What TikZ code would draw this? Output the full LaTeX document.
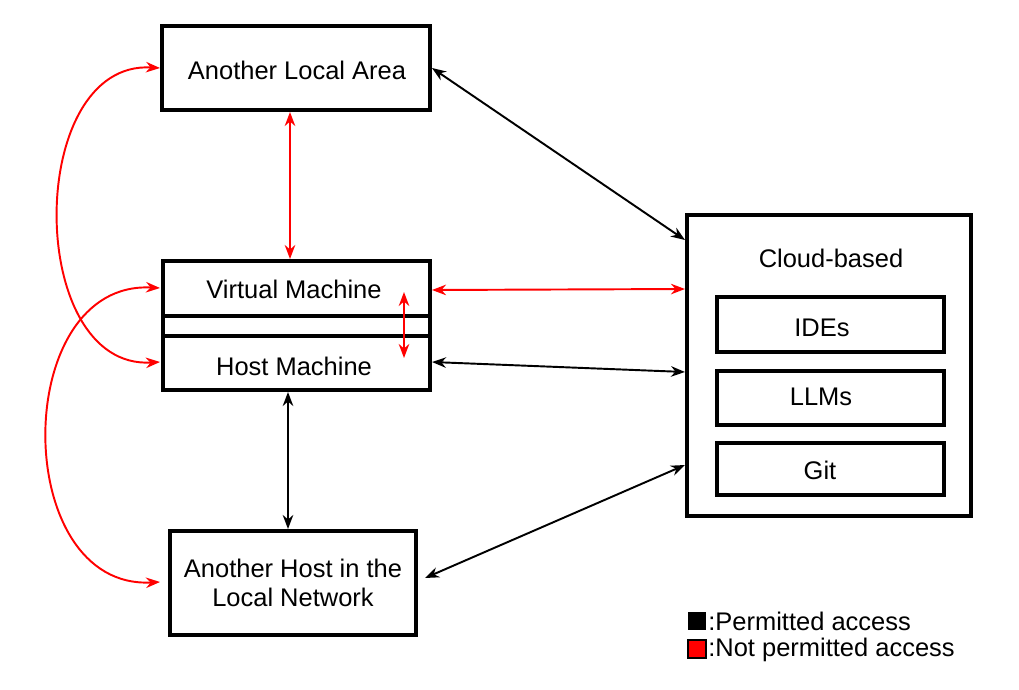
\documentclass[tikz,border=0pt]{standalone}
\usepackage{fontspec}
\setmainfont{Liberation Sans}
\usetikzlibrary{arrows.meta}
\begin{document}
\begin{tikzpicture}[x=0.02cm,y=-0.02cm,
  box/.style={draw,line width=2.4pt},
  lbl/.style={font=\fontsize{14.5}{16.5}\selectfont,align=center},
  ok/.style={{Stealth[length=8pt,width=6pt]}-{Stealth[length=8pt,width=6pt]},line width=1.1pt,black},
  no/.style={{Stealth[length=8pt,width=6pt]}-{Stealth[length=8pt,width=6pt]},line width=1.1pt,red}]
\useasboundingbox (0,0) rectangle (1019,690);
\draw[box] (162,26) rectangle (430,110);
\node[lbl] (ala) at (297,70) {Another Local Area};
\coordinate (alaB) at (290,112);
\coordinate (alaR) at (432,68);
\coordinate (alaL) at (160,68);
\draw[box] (163,261) rectangle (430,390);
\draw[line width=2.4pt] (163,316) -- (430,316) (163,336) -- (430,336);
\node[lbl] (vm) at (294,289) {Virtual Machine};
\node[lbl] (hm) at (294,366) {Host Machine};
\draw[box] (170,531) rectangle (416,635);
\node[lbl] (ah) at (293,583) {Another Host in the\\Local Network};
\draw[box] (687,215) rectangle (971,516);
\node[lbl] (cb) at (831,258) {Cloud-based};
\draw[box] (717,297) rectangle (944,352); \node[lbl] (ide) at (822,328) {IDEs};
\draw[box] (717,371) rectangle (944,425); \node[lbl] (llm) at (821,397) {LLMs};
\draw[box] (717,443) rectangle (944,495); \node[lbl] (git) at (820,470) {Git};
\coordinate (c1) at (685,240); \coordinate (c2) at (685,289);
\coordinate (c3) at (685,372); \coordinate (c4) at (685,465);
\coordinate (vmT) at (290,259); \coordinate (vmR) at (432,290); \coordinate (vmL) at (160,288);
\coordinate (hmR) at (432,362); \coordinate (hmB) at (288,392); \coordinate (hmL) at (160,362);
\coordinate (ahT) at (288,529); \coordinate (ahR) at (425,578); \coordinate (ahL) at (160,582);
\coordinate (i1) at (404,292); \coordinate (i2) at (404,358);
\draw[no] (alaB) -- (vmT);
\draw[ok] (alaR) -- (c1);
\draw[no] (vmR) -- (c2);
\draw[ok] (hmR) -- (c3);
\draw[no] (i1) -- (i2);
\draw[ok] (hmB) -- (ahT);
\draw[ok] (ahR) -- (c4);
\draw[no] (alaL) .. controls (25,60) and (25,370) .. (hmL);
\draw[no] (vmL) .. controls (10,280) and (10,590) .. (ahL);
\fill[black] (688,612) rectangle (706,630);
\node[lbl,anchor=west,inner sep=0] (p) at (708,621) {:Permitted access};
\fill[red] (688,640) rectangle (706,658);
\draw[line width=0.8pt] (688,640) rectangle (706,658);
\node[lbl,anchor=west,inner sep=0] (np) at (708,650) {:Not permitted access};
\end{tikzpicture}
\end{document}
